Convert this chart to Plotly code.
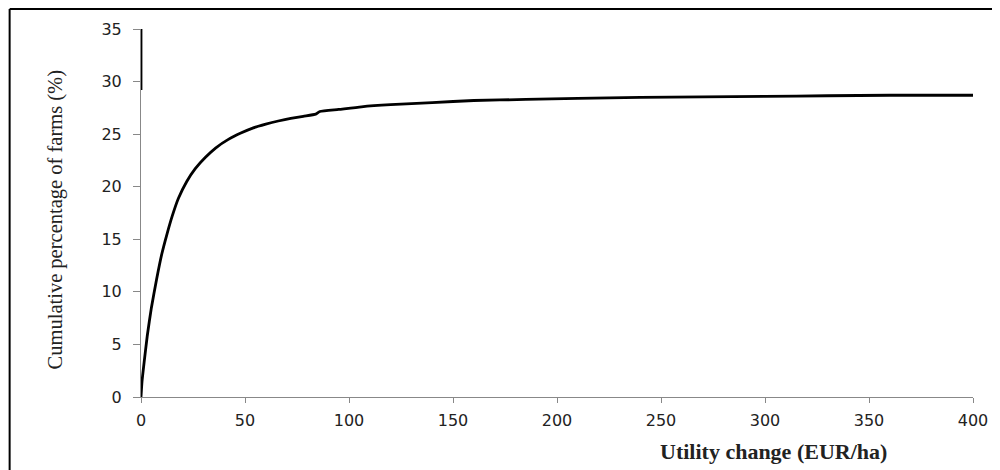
import plotly.graph_objects as go

# Cumulative curve
utility_change = [0, 0.5, 1.5, 3, 5, 7.5, 10, 12.5, 15, 18, 22, 26, 31, 36, 42, 48, 54, 60, 66, 72,
                  78, 84, 86, 95, 106, 120, 140, 160, 185, 210, 240, 270, 300, 330, 360, 400]
cum_pct = [0, 1.5, 3.3, 5.8, 8.5, 11.2, 13.6, 15.5, 17.2, 18.9, 20.5, 21.7, 22.8, 23.7, 24.5, 25.1,
           25.6, 25.95, 26.25, 26.5, 26.7, 26.9, 27.15, 27.35, 27.6, 27.8, 28.0, 28.2, 28.3, 28.4,
           28.5, 28.55, 28.6, 28.65, 28.7, 28.7]

# Short vertical segment at the top of the y axis
seg_x = [0, 0]
seg_y = [29.2, 35]

x_ticks = [0, 50, 100, 150, 200, 250, 300, 350, 400]
y_ticks = [0, 5, 10, 15, 20, 25, 30, 35]

fig = go.Figure()
fig.add_trace(go.Scatter(x=utility_change, y=cum_pct, mode="lines",
                         line=dict(color="black", width=2.8), line_shape="spline",
                         line_smoothing=0.5, showlegend=False, hoverinfo="skip"))
fig.add_trace(go.Scatter(x=seg_x, y=seg_y, mode="lines",
                         line=dict(color="black", width=2.8), showlegend=False, hoverinfo="skip"))

# page body has an 8px margin, so the figure is laid out in page coords minus 8
OFF = 8
W, H = 1000 - OFF, 470 - OFF
L = 141 - OFF
R = W - (977 - OFF)
T = 29 - OFF
B = H - (397 - OFF)
pw, ph = W - L - R, H - T - B


def px_x(ref_px):
    return (ref_px - 141) / pw


def px_y(ref_py):
    return (397 - ref_py) / ph


tickfont = dict(family="DejaVu Sans", size=16, color="#222")
fig.update_layout(
    width=W, height=H,
    margin=dict(l=L, r=R, t=T, b=B, pad=0),
    paper_bgcolor="white", plot_bgcolor="white",
    xaxis=dict(range=[0, 400], tickvals=x_ticks, ticks="outside", ticklen=5, tickcolor="#888",
               showline=True, linecolor="#888", linewidth=1, showgrid=False, zeroline=False,
               tickfont=tickfont, ticklabelstandoff=4),
    yaxis=dict(range=[0, 35], tickvals=y_ticks, ticks="outside", ticklen=7, tickcolor="#888",
               showline=True, linecolor="#888", linewidth=1, showgrid=False, zeroline=False,
               tickfont=tickfont, ticklabelstandoff=8),
)

fig.add_annotation(text="Cumulative percentage of farms (%)", xref="paper", yref="paper",
                   x=px_x(55), y=px_y(220), xanchor="center", yanchor="middle", textangle=-90,
                   showarrow=False, font=dict(family="Liberation Serif", size=20.5, color="#222"))
fig.add_annotation(text="<b>Utility change (EUR/ha)</b>", xref="paper", yref="paper",
                   x=px_x(777), y=px_y(451), xanchor="center", yanchor="middle",
                   showarrow=False, font=dict(family="Liberation Serif", size=22, color="#222"))

# Outer frame (left and top edges visible)
bx = px_x(9)
by = px_y(9)
fig.add_shape(type="line", xref="paper", yref="paper", x0=bx, x1=bx, y0=-0.5, y1=by,
              line=dict(color="black", width=2))
fig.add_shape(type="line", xref="paper", yref="paper", x0=bx, x1=1.2, y0=by, y1=by,
              line=dict(color="black", width=2))

fig.write_html("out.html")
